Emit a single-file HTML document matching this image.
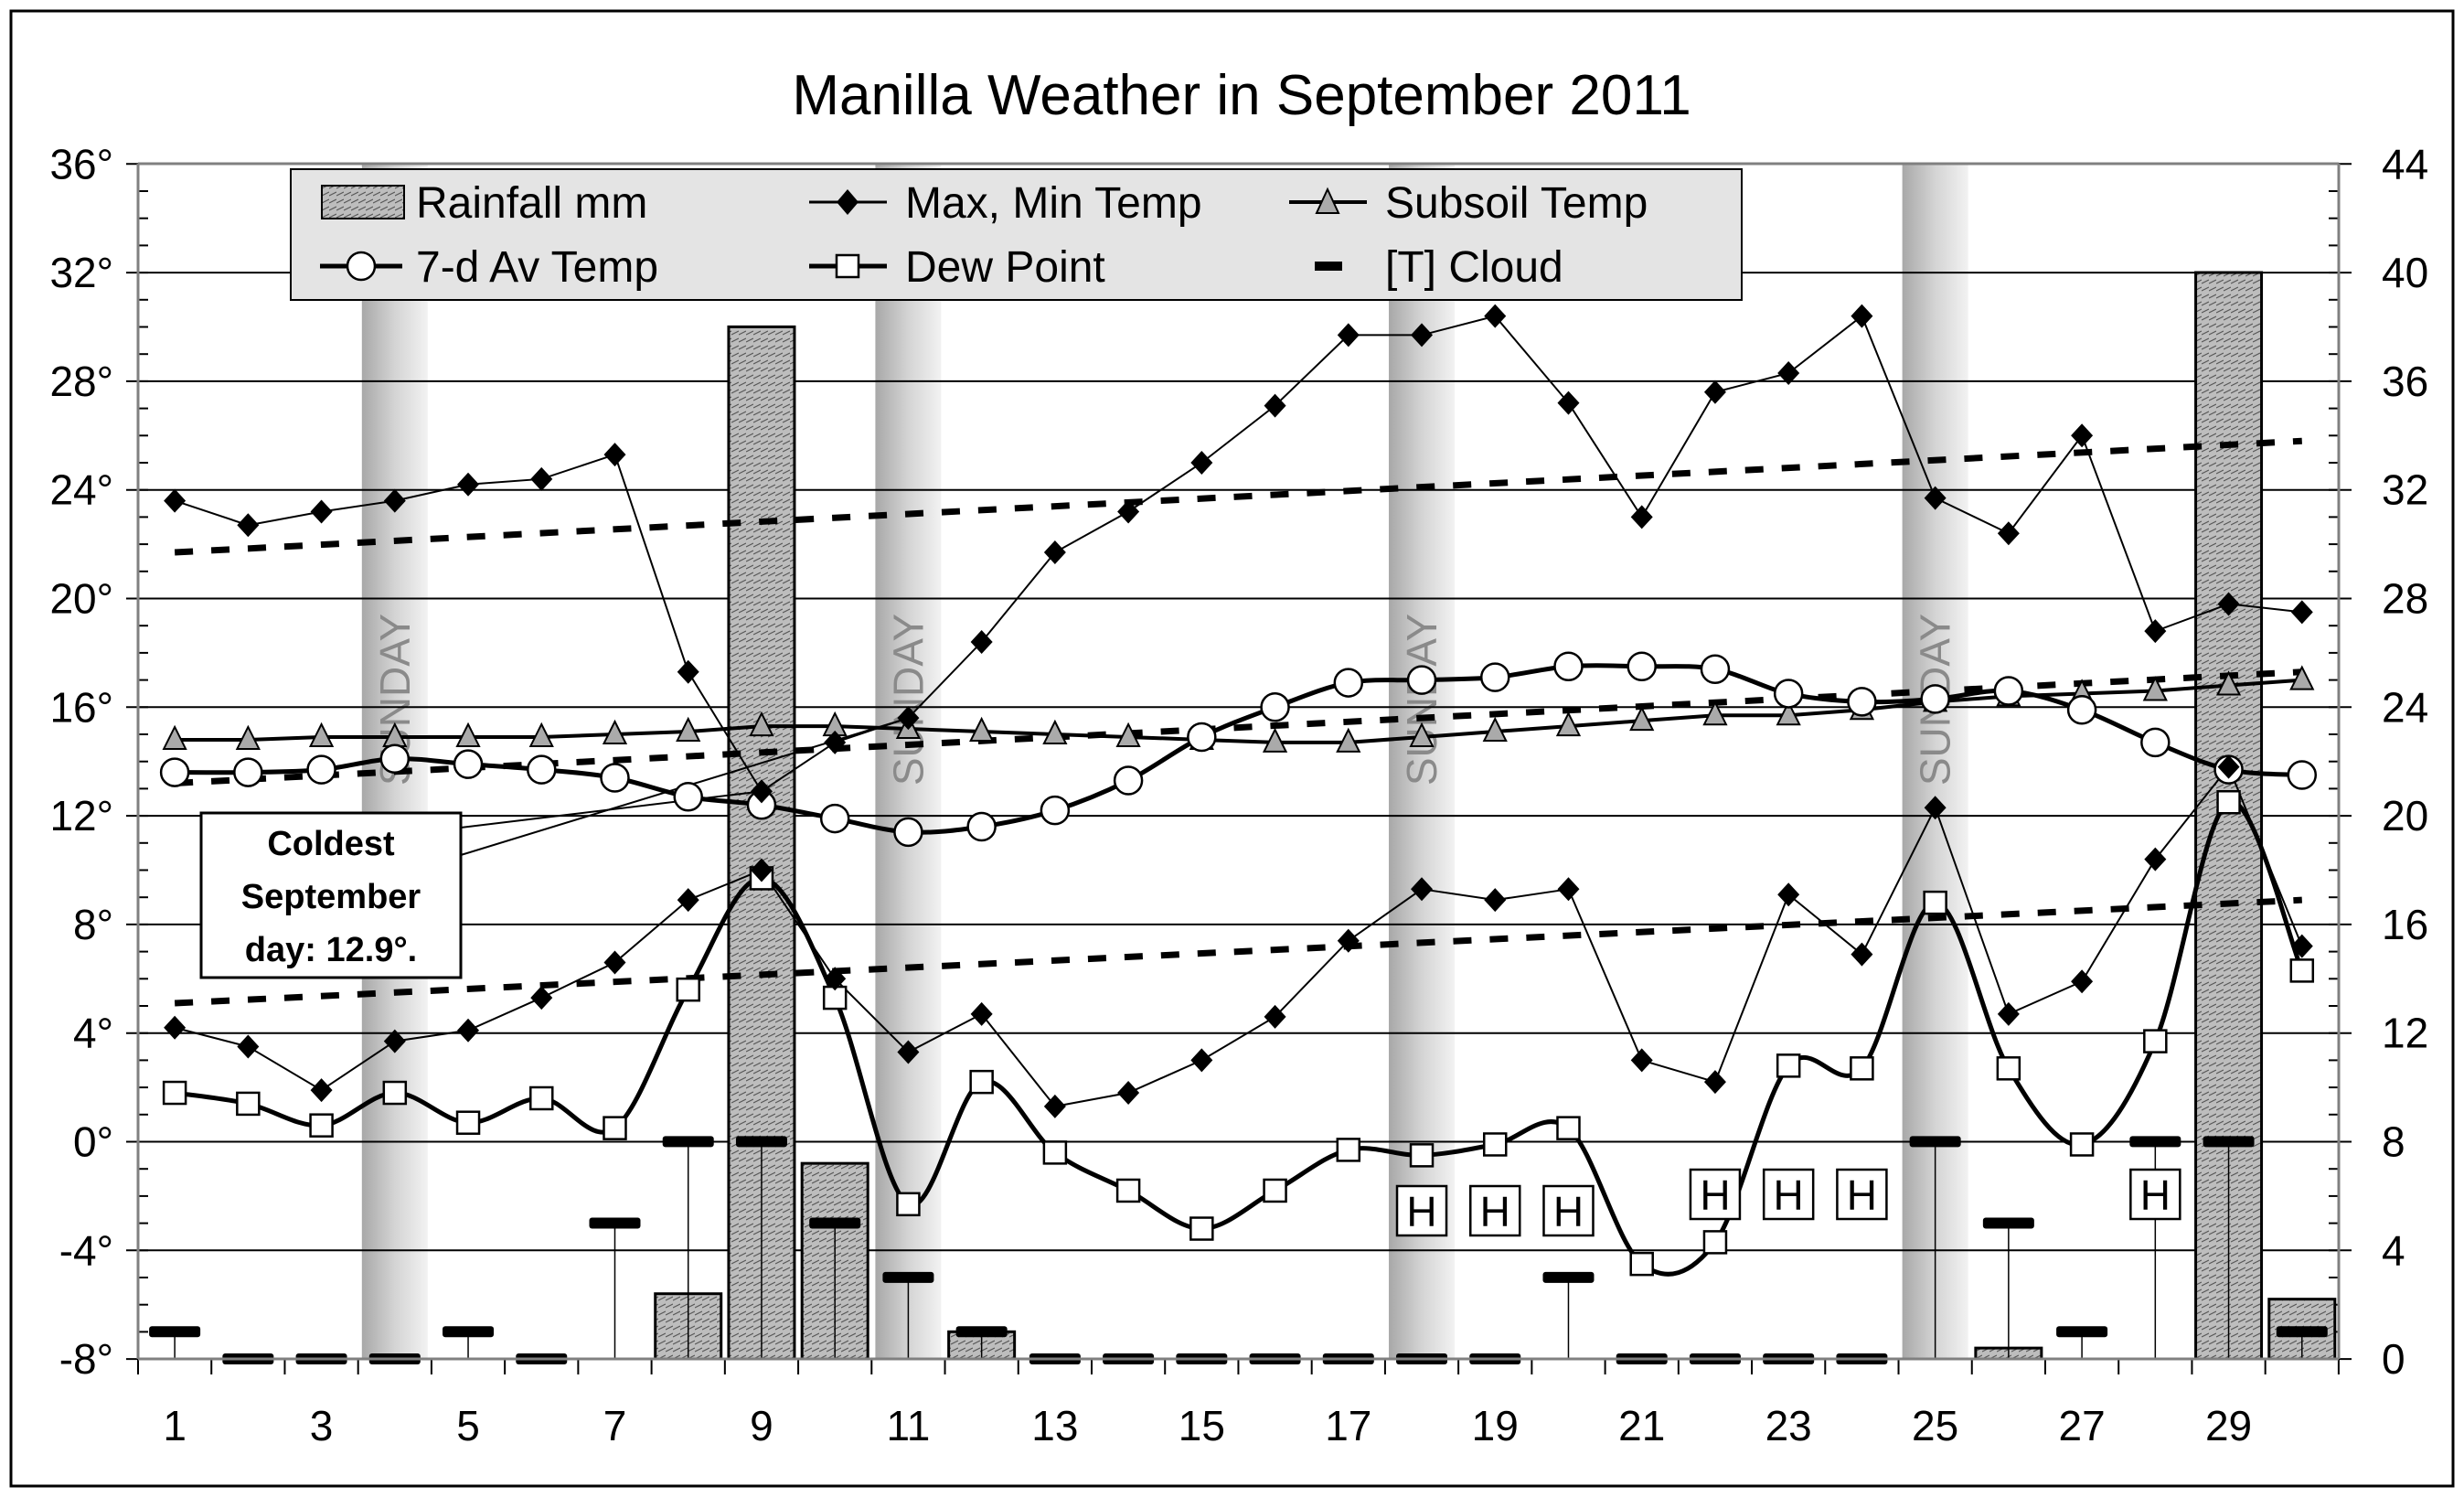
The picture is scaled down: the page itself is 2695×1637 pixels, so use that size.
<!DOCTYPE html>
<html><head><meta charset="utf-8"><style>
html,body{margin:0;padding:0;background:#fff}
svg{display:block}
text{font-family:"Liberation Sans",Arial,sans-serif}
</style></head><body>
<svg id="c" xmlns="http://www.w3.org/2000/svg" width="2695" height="1637" viewBox="0 0 2695 1637">
<defs>
<linearGradient id="sun" x1="0" x2="1" y1="0" y2="0">
<stop offset="0" stop-color="#a8a8a8"/><stop offset="0.5" stop-color="#d4d4d4"/><stop offset="1" stop-color="#f2f2f2"/>
</linearGradient>
<pattern id="hat" width="8" height="8" patternUnits="userSpaceOnUse">
<rect width="8" height="8" fill="#bdbdbd"/><path d="M0 6 L8 2" stroke="#555" stroke-width="1.2"/>
</pattern>
</defs>
<rect x="12" y="12" width="2671" height="1613" fill="#fff" stroke="#000" stroke-width="3"/>
<g id="g"></g>
</svg>
<script>
var g=document.getElementById('g'),NS='http://www.w3.org/2000/svg',h='';
function X(d){return 151+(d-0.5)*80.23}
function Y(t){return 1248.5-29.7*t}
function R(m){return 1486-29.7*m}
// sunday columns
[4,11,18,25].forEach(function(d){
 h+='<rect x="'+(X(d)-36)+'" y="179" width="72" height="1307" fill="url(#sun)"/>';
 h+='<text transform="translate('+(X(d)+16)+',765) rotate(-90)" text-anchor="middle" font-size="46" fill="#8a8a8a">SUNDAY</text>';
});
// gridlines
for(var t=-8;t<=36;t+=4){h+='<line x1="138" x2="2572" y1="'+Y(t)+'" y2="'+Y(t)+'" stroke="#000" stroke-width="2"/>';
 h+='<text x="124" y="'+(Y(t)+16)+'" text-anchor="end" font-size="46">'+t+'°</text>';
 var m=t+8;h+='<text x="2605" y="'+(Y(t)+16)+'" font-size="46">'+m+'</text>';}
for(var t=-8;t<=36;t++){h+='<line x1="151" x2="162" y1="'+Y(t)+'" y2="'+Y(t)+'" stroke="#000" stroke-width="2"/><line x1="2547" x2="2558" y1="'+Y(t)+'" y2="'+Y(t)+'" stroke="#000" stroke-width="2"/>';}
for(var d=0;d<=30;d++){var x=151+d*80.23;h+='<line x1="'+x+'" x2="'+x+'" y1="1486" y2="1503" stroke="#000" stroke-width="2"/>';}
for(var d=1;d<=29;d+=2){h+='<text x="'+X(d)+'" y="1575" text-anchor="middle" font-size="46">'+d+'</text>';}
// rain
var rain={8:2.4,9:38,10:7.2,12:1.0,26:0.4,29:40,30:2.2};
for(var k in rain){h+='<rect x="'+(X(+k)-36)+'" y="'+R(rain[k])+'" width="72" height="'+(1486-R(rain[k]))+'" fill="url(#hat)" stroke="#000" stroke-width="3"/>';}
// trend dashed
function dl(a,b){h+='<line x1="'+X(1)+'" y1="'+Y(a)+'" x2="'+X(30)+'" y2="'+Y(b)+'" stroke="#000" stroke-width="7" stroke-dasharray="20 20"/>';}
dl(21.7,25.8);dl(13.2,17.3);dl(5.1,8.9);
// cloud
var cl=[1,0,0,0,1,0,5,8,8,5,3,1,0,0,0,0,0,0,0,3,0,0,0,0,8,5,1,8,8,1];
cl.forEach(function(v,i){var x=X(i+1),y=R(v);if(v>0)h+='<line x1="'+x+'" x2="'+x+'" y1="'+y+'" y2="1486" stroke="#000" stroke-width="1.5"/>';
 h+='<rect x="'+(x-28)+'" y="'+(y-6)+'" width="56" height="12" rx="3" fill="#000"/>';});
function pts(a){return a.map(function(v,i){return [X(i+1),Y(v)]})}
function poly(p,w){return '<polyline points="'+p.map(function(q){return q.join(',')}).join(' ')+'" fill="none" stroke="#000" stroke-width="'+w+'"/>'}
function smooth(p,w){var s='M'+p[0].join(',');for(var i=0;i<p.length-1;i++){var p0=p[i-1]||p[i],p1=p[i],p2=p[i+1],p3=p[i+2]||p2;
 s+=' C'+(p1[0]+(p2[0]-p0[0])/6)+','+(p1[1]+(p2[1]-p0[1])/6)+' '+(p2[0]-(p3[0]-p1[0])/6)+','+(p2[1]-(p3[1]-p1[1])/6)+' '+p2[0]+','+p2[1];}
 return '<path d="'+s+'" fill="none" stroke="#000" stroke-width="'+w+'"/>'}
var mx=[23.6,22.7,23.2,23.6,24.2,24.4,25.3,17.3,12.9,14.7,15.6,18.4,21.7,23.2,25.0,27.1,29.7,29.7,30.4,27.2,23.0,27.6,28.3,30.4,23.7,22.4,26.0,18.8,19.8,19.5];
var mn=[4.2,3.5,1.9,3.7,4.1,5.3,6.6,8.9,10.0,6.0,3.3,4.7,1.3,1.8,3.0,4.6,7.4,9.3,8.9,9.3,3.0,2.2,9.1,6.9,12.3,4.7,5.9,10.4,13.8,7.2];
var ss=[14.8,14.8,14.9,14.9,14.9,14.9,15.0,15.1,15.3,15.3,15.2,15.1,15.0,14.9,14.8,14.7,14.7,14.9,15.1,15.3,15.5,15.7,15.7,15.9,16.2,16.4,16.5,16.6,16.8,17.0];
var av=[13.6,13.6,13.7,14.1,13.9,13.7,13.4,12.7,12.4,11.9,11.4,11.6,12.2,13.3,14.9,16.0,16.9,17.0,17.1,17.5,17.5,17.4,16.5,16.2,16.3,16.6,15.9,14.7,13.7,13.5];
var dw=[1.8,1.4,0.6,1.8,0.7,1.6,0.5,5.6,9.7,5.3,-2.3,2.2,-0.4,-1.8,-3.2,-1.8,-0.3,-0.5,-0.1,0.5,-4.5,-3.7,2.8,2.7,8.8,2.7,-0.1,3.7,12.5,6.3];
// callout
h+='<line x1="504" y1="905" x2="'+X(9)+'" y2="'+Y(12.9)+'" stroke="#000" stroke-width="2"/>';
h+='<line x1="504" y1="935" x2="'+X(11)+'" y2="'+Y(15.6)+'" stroke="#000" stroke-width="2"/>';
h+=poly(pts(ss),4);h+=smooth(pts(av),5);h+=smooth(pts(dw),5);h+=poly(pts(mx),2);h+=poly(pts(mn),2);
pts(ss).forEach(function(p){h+='<polygon points="'+p[0]+','+(p[1]-14)+' '+(p[0]+12)+','+(p[1]+10)+' '+(p[0]-12)+','+(p[1]+10)+'" fill="#aaa" stroke="#000" stroke-width="2"/>'});
pts(av).forEach(function(p){h+='<circle cx="'+p[0]+'" cy="'+p[1]+'" r="15" fill="#fff" stroke="#000" stroke-width="2.5"/>'});
pts(dw).forEach(function(p){h+='<rect x="'+(p[0]-12)+'" y="'+(p[1]-12)+'" width="24" height="24" fill="#fff" stroke="#000" stroke-width="2.5"/>'});
pts(mx).concat(pts(mn)).forEach(function(p){h+='<polygon points="'+p[0]+','+(p[1]-13)+' '+(p[0]+12)+','+p[1]+' '+p[0]+','+(p[1]+13)+' '+(p[0]-12)+','+p[1]+'" fill="#000"/>'});
// H boxes
[[18,1324],[19,1324],[20,1324],[22,1306],[23,1306],[24,1306],[28,1306]].forEach(function(a){var x=X(a[0]);
 h+='<rect x="'+(x-27)+'" y="'+(a[1]-27)+'" width="54" height="54" fill="#fff" stroke="#000" stroke-width="2.5"/><text x="'+x+'" y="'+(a[1]+17)+'" text-anchor="middle" font-size="46">H</text>';});
// callout box
h+='<rect x="220" y="889" width="284" height="180" fill="#fff" stroke="#000" stroke-width="3"/>';
['Coldest','September','day: 12.9°.'].forEach(function(s,i){h+='<text x="362" y="'+(935+i*58)+'" text-anchor="middle" font-size="38" font-weight="bold">'+s+'</text>'});
// axes frame
h+='<line x1="151" y1="179" x2="151" y2="1486" stroke="#808080" stroke-width="3"/><line x1="2558" y1="179" x2="2558" y2="1486" stroke="#808080" stroke-width="3"/>';
h+='<line x1="151" y1="179" x2="2558" y2="179" stroke="#808080" stroke-width="3"/><line x1="151" y1="1486" x2="2558" y2="1486" stroke="#808080" stroke-width="3"/>';
// legend
h+='<rect x="318" y="185" width="1587" height="143" fill="#e4e4e4" stroke="#000" stroke-width="2"/>';
var ly1=221,ly2=291;
h+='<rect x="352" y="'+(ly1-18)+'" width="90" height="36" fill="url(#hat)" stroke="#000" stroke-width="2"/><text x="455" y="'+(ly1+17)+'" font-size="48">Rainfall mm</text>';
h+='<line x1="885" x2="970" y1="'+ly1+'" y2="'+ly1+'" stroke="#000" stroke-width="3"/><polygon points="927,'+(ly1-14)+' 939,'+ly1+' 927,'+(ly1+14)+' 915,'+ly1+'"/><text x="990" y="'+(ly1+17)+'" font-size="48">Max, Min Temp</text>';
h+='<line x1="1410" x2="1495" y1="'+ly1+'" y2="'+ly1+'" stroke="#000" stroke-width="4"/><polygon points="1452,'+(ly1-14)+' 1464,'+(ly1+12)+' 1440,'+(ly1+12)+'" fill="#aaa" stroke="#000" stroke-width="2"/><text x="1515" y="'+(ly1+17)+'" font-size="48">Subsoil Temp</text>';
h+='<line x1="350" x2="440" y1="'+ly2+'" y2="'+ly2+'" stroke="#000" stroke-width="5"/><circle cx="395" cy="'+ly2+'" r="15" fill="#fff" stroke="#000" stroke-width="2.5"/><text x="455" y="'+(ly2+17)+'" font-size="48">7-d Av Temp</text>';
h+='<line x1="885" x2="970" y1="'+ly2+'" y2="'+ly2+'" stroke="#000" stroke-width="5"/><rect x="915" y="'+(ly2-12)+'" width="24" height="24" fill="#fff" stroke="#000" stroke-width="2.5"/><text x="990" y="'+(ly2+17)+'" font-size="48">Dew Point</text>';
h+='<rect x="1438" y="'+(ly2-5)+'" width="30" height="10" fill="#000"/><text x="1515" y="'+(ly2+17)+'" font-size="48">[T] Cloud</text>';
// title
h+='<text x="1358" y="125" text-anchor="middle" font-size="62">Manilla Weather in September 2011</text>';
g.innerHTML=h;
</script>
</body></html>
